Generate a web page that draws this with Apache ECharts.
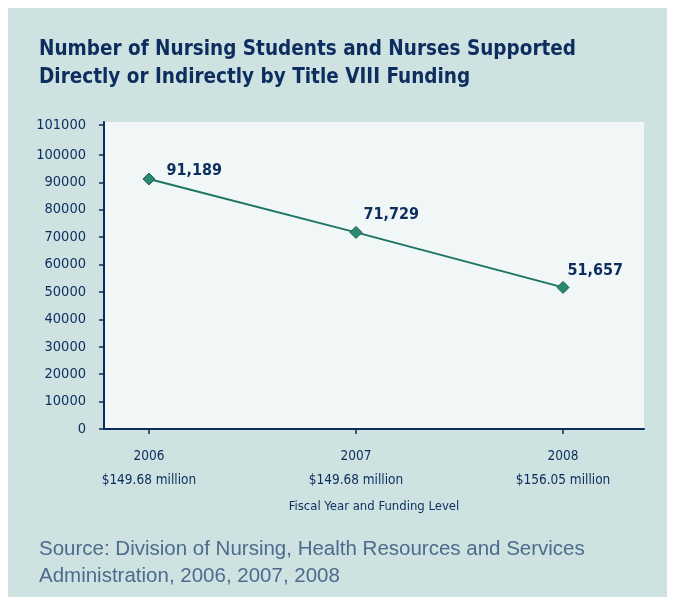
<!DOCTYPE html>
<html>
<head>
<meta charset="utf-8">
<script src="https://cdn.jsdelivr.net/npm/echarts@6/dist/echarts.min.js"></script>
<style>
html,body{margin:0;padding:0;background:#fff;}
#chart{width:674px;height:604px;}
</style>
</head>
<body>
<div id="chart"></div>
<script>
// ---- data ----
const years = [2006, 2007, 2008];
const funding = ['$149.68 million', '$149.68 million', '$156.05 million'];
const supported = [91189, 71729, 51657];
const yTickValues = [0, 10000, 20000, 30000, 40000, 50000, 60000, 70000, 80000, 90000, 100000, 111000];
const yTickLabels = ['0', '10000', '20000', '30000', '40000', '50000', '60000', '70000', '80000', '90000', '100000', '101000'];

const NAVY = '#0d2d5e';
const NARROW = '"DejaVu Sans Condensed", "Liberation Sans Narrow", sans-serif';
const labelOffsets = [[18, -8], [8, -17], [5, -16]];

const chart = echarts.init(document.getElementById('chart'), null, {renderer: 'canvas'});
chart.setOption({
  backgroundColor: '#ffffff',
  animation: false,
  graphic: [{
    type: 'rect', z: -10, silent: true,
    shape: {x: 8, y: 8, width: 659, height: 589},
    style: {fill: '#cde2e1'}
  }],
  title: [{
    text: 'Number of Nursing Students and Nurses Supported\nDirectly or Indirectly by Title VIII Funding',
    left: 34, top: 31,
    textStyle: {fontFamily: NARROW, fontWeight: 'bold', fontSize: 20.5, lineHeight: 28, color: NAVY}
  }, {
    text: 'Source: Division of Nursing, Health Resources and Services\nAdministration, 2006, 2007, 2008',
    left: 34, top: 531,
    textStyle: {fontFamily: 'Liberation Sans, sans-serif', fontWeight: 'normal', fontSize: 20.5, lineHeight: 27, color: '#4d6b8c'}
  }],
  grid: {
    left: 104, right: 30, top: 122, bottom: 175,
    show: true, backgroundColor: '#f1f7f7', borderWidth: 0
  },
  xAxis: {
    type: 'value',
    min: 2005.783, max: 2008.391,
    name: 'Fiscal Year and Funding Level',
    nameLocation: 'middle', nameGap: 71,
    nameTextStyle: {fontFamily: NARROW, fontSize: 13, color: NAVY},
    axisLine: {show: true, onZero: false, lineStyle: {color: NAVY, width: 2}},
    axisTick: {show: true, length: 5, customValues: years, lineStyle: {color: NAVY, width: 1.5}},
    splitLine: {show: false},
    axisLabel: {
      customValues: years, margin: 15,
      fontFamily: NARROW, fontSize: 13.5, lineHeight: 24, color: NAVY,
      formatter: function (v) {
        const i = years.indexOf(Math.round(v));
        return i >= 0 ? years[i] + '\n' + funding[i] : '';
      }
    }
  },
  yAxis: {
    type: 'value',
    min: 0, max: 112000,
    axisLine: {show: true, lineStyle: {color: NAVY, width: 2}},
    axisTick: {show: true, length: 5, customValues: yTickValues, lineStyle: {color: NAVY, width: 1.5}},
    splitLine: {show: false},
    axisLabel: {
      customValues: yTickValues, margin: 18,
      fontFamily: NARROW, fontSize: 14.5, color: NAVY,
      formatter: function (v) {
        const i = yTickValues.indexOf(v);
        return i >= 0 ? yTickLabels[i] : '';
      }
    }
  },
  series: [{
    type: 'line',
    data: years.map((y, i) => ({
      value: [y, supported[i]],
      label: {position: [labelOffsets[i][0] + 6, labelOffsets[i][1] + 6]}
    })),
    symbol: 'diamond', symbolSize: 12,
    itemStyle: {color: '#2b8873', borderColor: '#17604f', borderWidth: 1},
    lineStyle: {color: '#1b7464', width: 2},
    label: {
      show: true, align: 'left', verticalAlign: 'middle',
      fontFamily: NARROW, fontWeight: 'bold', fontSize: 16, color: NAVY,
      formatter: p => p.value[1].toLocaleString('en-US')
    }
  }]
});
</script>
</body>
</html>
